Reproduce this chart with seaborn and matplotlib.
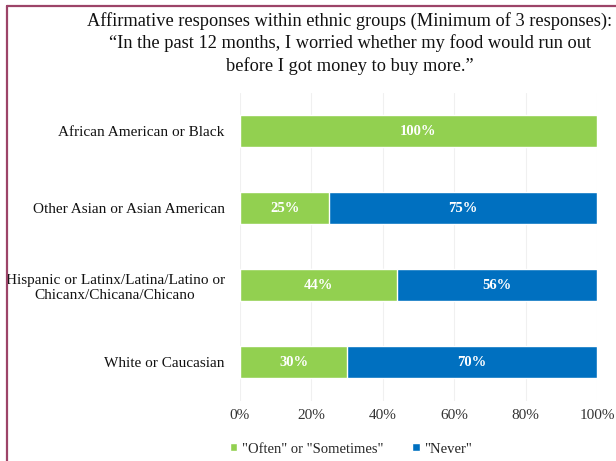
import matplotlib
matplotlib.use("Agg")
import matplotlib.pyplot as plt
from matplotlib.lines import Line2D
from matplotlib.patches import Patch
import seaborn as sns
import pandas as pd

groups = [
    "African American or Black",
    "Other Asian or Asian American",
    "Hispanic or Latinx/Latina/Latino or\nChicanx/Chicana/Chicano",
    "White or Caucasian",
]
often = [100, 25, 44, 30]
never = [0, 75, 56, 70]
ticks = [0, 20, 40, 60, 80, 100]
series_names = ['"Often" or "Sometimes"', '"Never"']
title_lines = [
    "Affirmative responses within ethnic groups (Minimum of 3 responses):",
    "\u201cIn the past 12 months, I worried whether my food would run out",
    "before I got money to buy more.\u201d",
]

GREEN = "#92D050"
BLUE = "#0070C0"
SERIF = ["Liberation Serif", "DejaVu Serif"]

sns.set_theme(style="white")
plt.rcParams["font.family"] = SERIF

df = pd.DataFrame({"group": groups, "often": often, "never": never})
df["total"] = df["often"] + df["never"]

fig = plt.figure(figsize=(6.16, 4.61), dpi=100)
ax = fig.add_axes([0.3896, 0.1312, 0.5795, 0.6681])

# stacked bars: full length in blue, the green share drawn over it
sns.barplot(data=df, y="group", x="total", color=BLUE, width=0.41,
            saturation=1, ax=ax, orient="h", zorder=2)
sns.barplot(data=df, y="group", x="often", color=GREEN, width=0.41,
            saturation=1, ax=ax, orient="h", zorder=3)

for i, (o, n) in enumerate(zip(often, never)):
    if o > 0:
        ax.text(o / 2, i, f"{o}%", ha="center", va="center", color="white",
                fontsize=10.5, fontweight="bold", zorder=4)
    if n > 0:
        ax.text(o + n / 2, i, f"{n}%", ha="center", va="center", color="white",
                fontsize=10.5, fontweight="bold", zorder=4)

ax.set_xlim(0, 100)
ax.set_ylim(3.5, -0.5)
ax.set_xticks(ticks)
ax.set_xticklabels([f"{t}%" for t in ticks], fontsize=11, color="#333333")
ax.tick_params(axis="x", length=0, pad=6)
ax.tick_params(axis="y", length=0, pad=11, labelsize=11, labelcolor="#111111")
ax.set_xlabel("")
ax.set_ylabel("")
ax.xaxis.grid(True, color="#f0f0f0", linewidth=0.8, zorder=0)
ax.set_axisbelow(True)
for s in ax.spines.values():
    s.set_visible(False)

for yl in ax.get_yticklabels():
    yl.set_horizontalalignment("right")
    yl.set_multialignment("center")

# title block
for k, line in enumerate(title_lines):
    fig.text(350 / 616, 1 - (21 + 22.5 * k) / 461, line, ha="center", va="center",
             fontsize=13.2, color="#111111")

handles = [Patch(facecolor=GREEN), Patch(facecolor=BLUE)]
fig.legend(handles, series_names, loc="center", bbox_to_anchor=(351 / 616, 1 - 449 / 461),
           ncol=2, frameon=False, fontsize=10.5, handlelength=0.5, handleheight=0.5,
           handletextpad=0.3, columnspacing=2.0)

# frame on the left and top edges
fig.add_artist(Line2D([7 / 616, 7 / 616], [0, 1 - 6 / 461], color="#9c4468", linewidth=1.6))
fig.add_artist(Line2D([7 / 616, 1], [1 - 6 / 461, 1 - 6 / 461], color="#9c4468", linewidth=1.6))

fig.savefig("out.png", dpi=100)
